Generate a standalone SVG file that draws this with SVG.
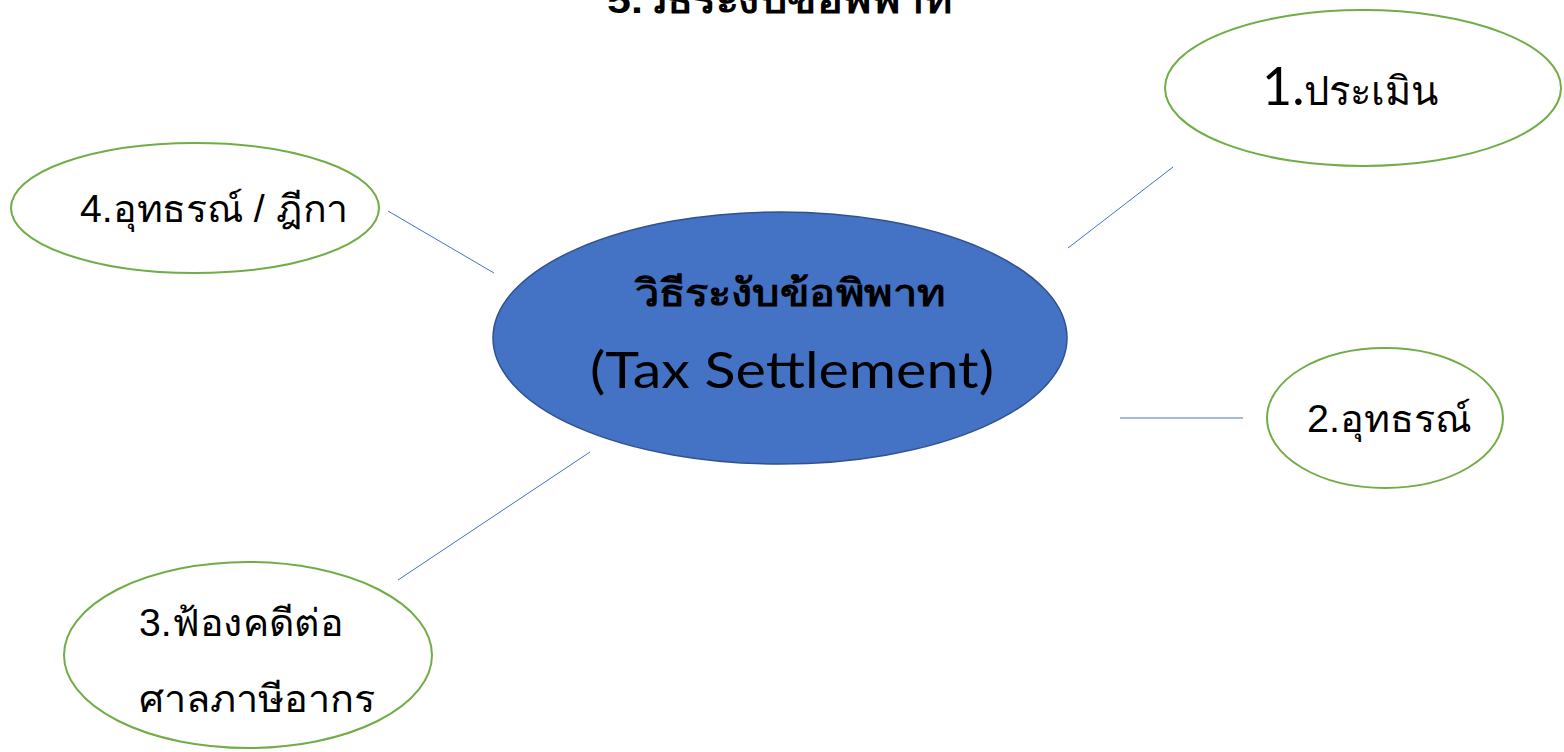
<svg xmlns="http://www.w3.org/2000/svg" width="1564" height="752" viewBox="0 0 1564 752">
<style>
.t{font-family:"Liberation Sans","Noto Sans","DejaVu Sans",sans-serif;fill:#000}
.lat{font-family:Lato,"Open Sans","Liberation Sans",sans-serif;fill:#000}
.leaf{fill:#fff;stroke:#70AD47;stroke-width:2}
.conn line{stroke:#4472C4;stroke-width:1}
</style>
<rect width="1564" height="752" fill="#fff"/>
<text class="t" x="780" y="13" font-size="36" font-weight="bold" text-anchor="middle" textLength="346" lengthAdjust="spacingAndGlyphs">5.วิธีระงับข้อพิพาท</text>
<g id="connectors" class="conn">
<line x1="388" y1="211" x2="494" y2="273"/>
<line x1="1068" y1="248" x2="1173" y2="167"/>
<line x1="1120" y1="418" x2="1243" y2="418"/>
<line x1="590" y1="452" x2="398" y2="580"/>
</g>
<g id="center">
<ellipse cx="780" cy="338" rx="287" ry="126" fill="#4472C4" stroke="#2F528F" stroke-width="1.5"/>
<text class="t" x="790" y="306" font-size="38" font-weight="bold" text-anchor="middle" textLength="310" lengthAdjust="spacingAndGlyphs">วิธีระงับข้อพิพาท</text>
<text class="lat" x="792" y="388" font-size="50" text-anchor="middle" textLength="404" lengthAdjust="spacingAndGlyphs">(Tax Settlement)</text>
</g>
<g id="node1">
<ellipse class="leaf" cx="1363" cy="88" rx="198" ry="78"/>
<text class="t" x="1262" y="105"><tspan class="lat" font-size="52">1.</tspan><tspan font-size="40">ประเมิน</tspan></text>
</g>
<g id="node2">
<ellipse class="leaf" cx="1385" cy="418" rx="118" ry="70"/>
<text class="t" x="1307" y="432" font-size="38" textLength="164" lengthAdjust="spacingAndGlyphs">2.อุทธรณ์</text>
</g>
<g id="node3">
<ellipse class="leaf" cx="248" cy="655" rx="184" ry="93"/>
<text class="t" x="139" y="636" font-size="38" textLength="205" lengthAdjust="spacingAndGlyphs">3.ฟ้องคดีต่อ</text>
<text class="t" x="139" y="712" font-size="38" textLength="236" lengthAdjust="spacingAndGlyphs">ศาลภาษีอากร</text>
</g>
<g id="node4">
<ellipse class="leaf" cx="195" cy="208" rx="184" ry="65"/>
<text class="t" x="80" y="222" font-size="38" textLength="268" lengthAdjust="spacingAndGlyphs">4.อุทธรณ์ / ฎีกา</text>
</g>
</svg>
